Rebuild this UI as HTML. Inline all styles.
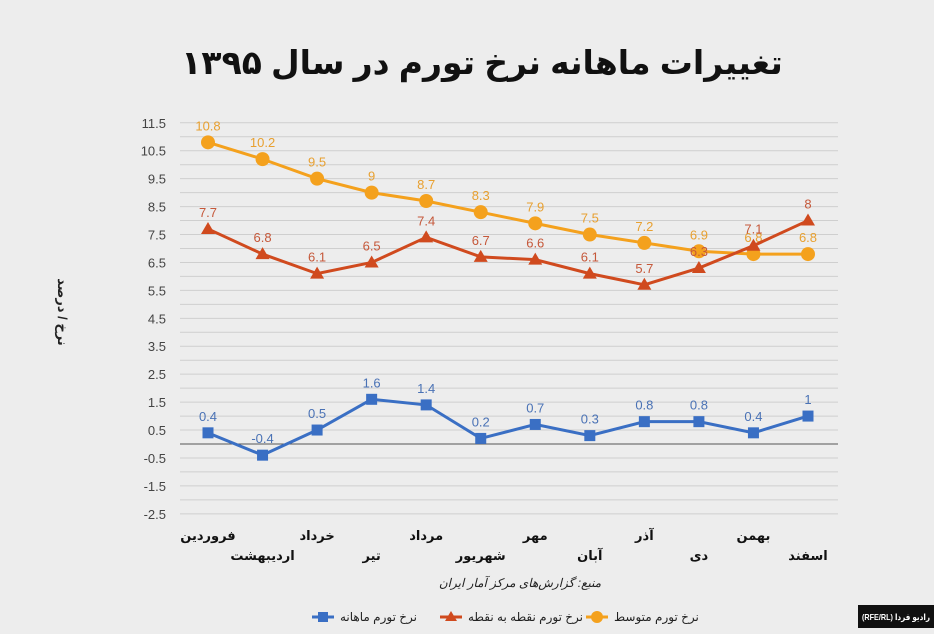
<!DOCTYPE html>
<html><head><meta charset="utf-8">
<style>
body{margin:0;background:#ededed;}
svg{display:block;font-family:"Liberation Sans","DejaVu Sans",sans-serif;}
</style></head>
<body>
<svg id="c" width="934" height="634">
<rect width="934" height="634" fill="#ededed"/>
<text x="482" y="74" text-anchor="middle" font-size="33" font-weight="bold" fill="#111">تغییرات ماهانه نرخ تورم در سال ۱۳۹۵</text>
<text transform="translate(58,312) rotate(90)" text-anchor="middle" font-size="13" font-weight="bold" fill="#222">نرخ / درصد</text>
<g id="grid"></g><g id="yt"></g><g id="xt"></g><g id="series"></g>
<text x="520" y="587" text-anchor="middle" font-size="12" font-style="italic" fill="#222">منبع: گزارش‌های مرکز آمار ایران</text>
<g>
<g>
<line x1="312" y1="617" x2="334" y2="617" stroke="#3a6fc4" stroke-width="3"/><rect x="318" y="612" width="10" height="10" fill="#3a6fc4"/>
<text x="340" y="621" font-size="12" fill="#222">نرخ تورم ماهانه</text></g>
<g>
<line x1="440" y1="617" x2="462" y2="617" stroke="#d04a1e" stroke-width="3"/><polygon points="451,611 457,621 445,621" fill="#d04a1e"/>
<text x="468" y="621" font-size="12" fill="#222">نرخ تورم نقطه به نقطه</text></g>
<g>
<line x1="586" y1="617" x2="608" y2="617" stroke="#f4a11d" stroke-width="3"/><circle cx="597" cy="617" r="6" fill="#f4a11d"/>
<text x="614" y="621" font-size="12" fill="#222">نرخ تورم متوسط</text></g>
</g>
<rect x="858" y="605" width="76" height="23" fill="#111"/>
<text x="862" y="620" font-size="8.5" font-weight="bold" fill="#fff" textLength="68" lengthAdjust="spacingAndGlyphs">(RFE/RL) رادیو فردا</text>
</svg>
<script>
const months=["فروردین","اردیبهشت","خرداد","تیر","مرداد","شهریور","مهر","آبان","آذر","دی","بهمن","اسفند"];
const avgValues=[10.8,10.2,9.5,9,8.7,8.3,7.9,7.5,7.2,6.9,6.8,6.8];
const pointValues=[7.7,6.8,6.1,6.5,7.4,6.7,6.6,6.1,5.7,6.3,7.1,8];
const monthlyValues=[0.4,-0.4,0.5,1.6,1.4,0.2,0.7,0.3,0.8,0.8,0.4,1];
const yTicks=["11.5","10.5","9.5","8.5","7.5","6.5","5.5","4.5","3.5","2.5","1.5","0.5","-0.5","-1.5","-2.5"];
const NS="http://www.w3.org/2000/svg";
const x=i=>208+i*(808-208)/11;
const y=v=>444-v*27.93;
function mk(p,t,a){const e=document.createElementNS(NS,t);for(const k in a)e.setAttribute(k,a[k]);p.appendChild(e);return e;}
const grid=document.getElementById('grid'),yt=document.getElementById('yt'),xt=document.getElementById('xt'),sr=document.getElementById('series');
for(let v=-2.5;v<=11.5001;v+=0.5){
 const l=mk(grid,'line',{x1:180,x2:838,y1:y(v),y2:y(v),stroke:Math.abs(v)<0.01?'#555':'#cfcfcf','stroke-width':1});
 
 
}
yTicks.forEach(t=>{
 const e=mk(yt,'text',{x:166,y:y(parseFloat(t))+5,'text-anchor':'end','font-size':13,fill:'#444'});e.textContent=t;
 
 
});
months.forEach((m,i)=>{
 const e=mk(xt,'text',{x:x(i),y:i%2===0?540:560,'text-anchor':'middle','font-size':13,'font-weight':'bold',fill:'#111'});e.textContent=m;
 
 
});
function series(vals,color,lc,shape,name){
 const g=mk(sr,'g',{});
 
 
 const pl=mk(g,'polyline',{points:vals.map((v,i)=>x(i)+','+y(v)).join(' '),fill:'none',stroke:color,'stroke-width':3});
 
 
 vals.forEach((v,i)=>{
  const cx=x(i),cy=y(v);let m;
  if(shape==='c')m=mk(g,'circle',{cx:cx,cy:cy,r:7,fill:color});
  else if(shape==='s')m=mk(g,'rect',{x:cx-5.5,y:cy-5.5,width:11,height:11,fill:color});
  else m=mk(g,'polygon',{points:`${cx},${cy-7} ${cx+7},${cy+5} ${cx-7},${cy+5}`,fill:color});
  
  
  const t=mk(g,'text',{x:cx,y:cy-12,'text-anchor':'middle','font-size':13,fill:lc});t.textContent=String(v);
  
  
 });
}
series(avgValues,'#f4a11d','#e8a030','c','average-series');
series(pointValues,'#d04a1e','#c5583a','t','point-series');
series(monthlyValues,'#3a6fc4','#4a72b5','s','monthly-series');
</script>
</body></html>
